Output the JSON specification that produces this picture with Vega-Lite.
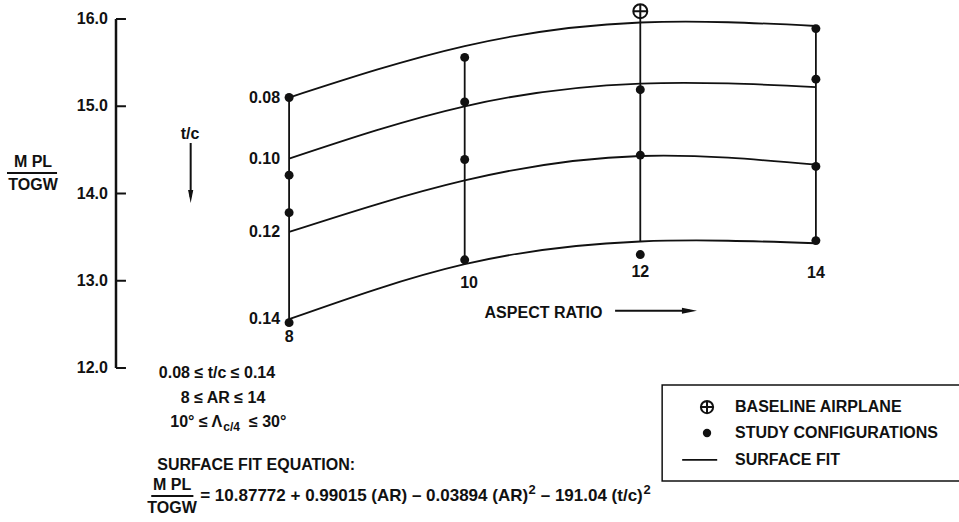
{
  "$schema": "https://vega.github.io/schema/vega-lite/v6.json",
  "width": 959,
  "height": 522,
  "padding": 0,
  "autosize": {"type": "none"},
  "background": "white",
  "config": {
    "view": {"stroke": null},
    "axis": {"disable": true},
    "text": {"font": "Liberation Sans", "fontWeight": "bold", "fontSize": 16, "color": "#111", "baseline": "middle"}
  },
  "data": {"values": [{}]},
  "datasets": {
    "curves": [
      {"tc": "0.08", "AR": 8, "v": 15.10}, {"tc": "0.08", "AR": 10, "v": 15.69}, {"tc": "0.08", "AR": 12, "v": 15.96}, {"tc": "0.08", "AR": 14, "v": 15.92},
      {"tc": "0.10", "AR": 8, "v": 14.40}, {"tc": "0.10", "AR": 10, "v": 15.00}, {"tc": "0.10", "AR": 12, "v": 15.26}, {"tc": "0.10", "AR": 14, "v": 15.22},
      {"tc": "0.12", "AR": 8, "v": 13.56}, {"tc": "0.12", "AR": 10, "v": 14.15}, {"tc": "0.12", "AR": 12, "v": 14.43}, {"tc": "0.12", "AR": 14, "v": 14.33},
      {"tc": "0.14", "AR": 8, "v": 12.56}, {"tc": "0.14", "AR": 10, "v": 13.19}, {"tc": "0.14", "AR": 12, "v": 13.45}, {"tc": "0.14", "AR": 14, "v": 13.43}
    ],
    "dots": [
      {"AR": 8, "v": 15.10}, {"AR": 8, "v": 14.21}, {"AR": 8, "v": 13.78}, {"AR": 8, "v": 12.52},
      {"AR": 10, "v": 15.56}, {"AR": 10, "v": 15.05}, {"AR": 10, "v": 14.39}, {"AR": 10, "v": 13.24},
      {"AR": 12, "v": 15.19}, {"AR": 12, "v": 14.44}, {"AR": 12, "v": 13.30},
      {"AR": 14, "v": 15.89}, {"AR": 14, "v": 15.31}, {"AR": 14, "v": 14.31}, {"AR": 14, "v": 13.46}
    ],
    "baseline": [{"AR": 12, "v": 16.09}],
    "verticals": [
      {"AR": 8, "top": 15.10, "bottom": 12.52},
      {"AR": 10, "top": 15.56, "bottom": 13.20},
      {"AR": 12, "top": 16.09, "bottom": 13.45},
      {"AR": 14, "top": 15.89, "bottom": 13.46}
    ],
    "arLabels": [
      {"AR": 8, "v": 12.355, "label": "8"},
      {"AR": 10.05, "v": 12.974, "label": "10"},
      {"AR": 12, "v": 13.10, "label": "12"},
      {"AR": 14, "v": 13.089, "label": "14"}
    ],
    "yticks": [
      {"v": 12, "label": "12.0"}, {"v": 13, "label": "13.0"}, {"v": 14, "label": "14.0"}, {"v": 15, "label": "15.0"}, {"v": 16, "label": "16.0"}
    ]
  },
  "layer": [
    {
      "data": {"name": "curves"},
      "mark": {"type": "line", "interpolate": "natural", "strokeWidth": 1.8, "color": "#111"},
      "encoding": {
        "x": {"field": "AR", "type": "quantitative", "scale": {"domain": [4.7073, 15.63], "nice": false, "zero": false}, "axis": null},
        "y": {"field": "v", "type": "quantitative", "scale": {"domain": [10.235, 16.2178], "nice": false, "zero": false}, "axis": null},
        "detail": {"field": "tc"}
      }
    },
    {
      "data": {"name": "verticals"},
      "mark": {"type": "rule", "strokeWidth": 1.8, "color": "#111"},
      "encoding": {
        "x": {"field": "AR", "type": "quantitative"},
        "y": {"field": "top", "type": "quantitative"},
        "y2": {"field": "bottom"}
      }
    },
    {
      "data": {"name": "dots"},
      "mark": {"type": "point", "filled": true, "shape": "circle", "size": 80, "color": "#111", "opacity": 1},
      "encoding": {
        "x": {"field": "AR", "type": "quantitative"},
        "y": {"field": "v", "type": "quantitative"}
      }
    },
    {
      "data": {"name": "baseline"},
      "mark": {"type": "point", "shape": "M-1,0A1,1 0 1,1 1,0A1,1 0 1,1 -1,0Z M-1,0L1,0 M0,-1L0,1", "size": 196, "filled": true, "fill": "white", "stroke": "#111", "strokeWidth": 2, "opacity": 1},
      "encoding": {
        "x": {"field": "AR", "type": "quantitative"},
        "y": {"field": "v", "type": "quantitative"}
      }
    },
    {
      "data": {"name": "curves"},
      "transform": [{"filter": "datum.AR == 8"}],
      "mark": {"type": "text", "align": "right", "dx": -9},
      "encoding": {
        "x": {"field": "AR", "type": "quantitative"},
        "y": {"field": "v", "type": "quantitative"},
        "text": {"field": "tc"}
      }
    },
    {
      "data": {"name": "arLabels"},
      "mark": {"type": "text", "align": "center"},
      "encoding": {
        "x": {"field": "AR", "type": "quantitative"},
        "y": {"field": "v", "type": "quantitative"},
        "text": {"field": "label"}
      }
    },
    {
      "mark": {"type": "rule", "strokeWidth": 2.5, "color": "#111"},
      "encoding": {"x": {"datum": 6.0285}, "y": {"datum": 12}, "y2": {"datum": 16}}
    },
    {
      "data": {"name": "yticks"},
      "mark": {"type": "rule", "strokeWidth": 2, "color": "#111"},
      "encoding": {"x": {"datum": 6.0285}, "x2": {"datum": 6.142}, "y": {"field": "v", "type": "quantitative"}}
    },
    {
      "data": {"name": "yticks"},
      "mark": {"type": "text", "align": "right"},
      "encoding": {"x": {"datum": 5.937}, "y": {"field": "v", "type": "quantitative"}, "text": {"field": "label"}}
    },
    {
      "mark": {"type": "text", "align": "center", "text": "M PL"},
      "encoding": {"x": {"datum": 5.083}, "y": {"datum": 14.36}}
    },
    {
      "mark": {"type": "rule", "strokeWidth": 2, "color": "#111"},
      "encoding": {"x": {"datum": 4.787}, "x2": {"datum": 5.357}, "y": {"datum": 14.235}}
    },
    {
      "mark": {"type": "text", "align": "center", "text": "TOGW"},
      "encoding": {"x": {"datum": 5.083}, "y": {"datum": 14.097}}
    },
    {
      "mark": {"type": "text", "align": "center", "text": "t/c"},
      "encoding": {"x": {"datum": 6.871}, "y": {"datum": 14.682}}
    },
    {
      "mark": {"type": "rule", "strokeWidth": 2, "color": "#111"},
      "encoding": {"x": {"datum": 6.879}, "y": {"datum": 14.579}, "y2": {"datum": 13.96}}
    },
    {
      "mark": {"type": "point", "shape": "M-0.4,-1L0,1L0.4,-1Z", "size": 169, "filled": true, "color": "#111", "opacity": 1},
      "encoding": {"x": {"datum": 6.879}, "y": {"datum": 13.966}}
    },
    {
      "mark": {"type": "text", "align": "center", "text": "ASPECT RATIO"},
      "encoding": {"x": {"datum": 10.898}, "y": {"datum": 12.636}}
    },
    {
      "mark": {"type": "rule", "strokeWidth": 2, "color": "#111"},
      "encoding": {"x": {"datum": 11.713}, "x2": {"datum": 12.567}, "y": {"datum": 12.657}}
    },
    {
      "mark": {"type": "point", "shape": "M-1,-0.4L1,0L-1,0.4Z", "size": 225, "filled": true, "color": "#111", "opacity": 1},
      "encoding": {"x": {"datum": 12.56}, "y": {"datum": 12.657}}
    },
    {
      "mark": {"type": "text", "align": "center", "text": "0.08 ≤ t/c ≤ 0.14"},
      "encoding": {"x": {"datum": 7.179}, "y": {"datum": 11.943}}
    },
    {
      "mark": {"type": "text", "align": "center", "text": "8 ≤ AR ≤ 14"},
      "encoding": {"x": {"datum": 7.248}, "y": {"datum": 11.656}}
    },
    {
      "mark": {"type": "text", "align": "right", "text": "10° ≤ Λ"},
      "encoding": {"x": {"datum": 7.238}, "y": {"datum": 11.381}}
    },
    {
      "mark": {"type": "text", "align": "left", "text": "c/4", "fontSize": 12},
      "encoding": {"x": {"datum": 7.25}, "y": {"datum": 11.324}}
    },
    {
      "mark": {"type": "text", "align": "left", "text": "≤ 30°"},
      "encoding": {"x": {"datum": 7.543}, "y": {"datum": 11.381}}
    },
    {
      "mark": {"type": "text", "align": "left", "text": "SURFACE FIT EQUATION:"},
      "encoding": {"x": {"datum": 6.498}, "y": {"datum": 10.888}}
    },
    {
      "mark": {"type": "text", "align": "center", "text": "M PL"},
      "encoding": {"x": {"datum": 6.667}, "y": {"datum": 10.659}}
    },
    {
      "mark": {"type": "rule", "strokeWidth": 2, "color": "#111"},
      "encoding": {"x": {"datum": 6.43}, "x2": {"datum": 6.91}, "y": {"datum": 10.533}}
    },
    {
      "mark": {"type": "text", "align": "center", "text": "TOGW"},
      "encoding": {"x": {"datum": 6.667}, "y": {"datum": 10.395}}
    },
    {
      "mark": {"type": "text", "align": "left", "fontSize": 17, "text": "= 10.87772 + 0.99015 (AR) – 0.03894 (AR)"},
      "encoding": {"x": {"datum": 6.9875}, "y": {"datum": 10.533}}
    },
    {
      "mark": {"type": "text", "align": "left", "fontSize": 13, "text": "2"},
      "encoding": {"x": {"datum": 10.7267}, "y": {"datum": 10.602}}
    },
    {
      "mark": {"type": "text", "align": "left", "fontSize": 17, "text": "– 191.04 (t/c)"},
      "encoding": {"x": {"datum": 10.866}, "y": {"datum": 10.533}}
    },
    {
      "mark": {"type": "text", "align": "left", "fontSize": 13, "text": "2"},
      "encoding": {"x": {"datum": 12.036}, "y": {"datum": 10.602}}
    },
    {
      "mark": {"type": "rect", "fill": null, "filled": false, "stroke": "#111", "strokeWidth": 1.5},
      "encoding": {"x": {"datum": 12.249}, "x2": {"datum": 15.7}, "y": {"datum": 11.805}, "y2": {"datum": 10.705}}
    },
    {
      "mark": {"type": "point", "shape": "M-1,0A1,1 0 1,1 1,0A1,1 0 1,1 -1,0Z M-1,0L1,0 M0,-1L0,1", "size": 150, "filled": true, "fill": "white", "stroke": "#111", "strokeWidth": 2, "opacity": 1},
      "encoding": {"x": {"datum": 12.76}, "y": {"datum": 11.553}}
    },
    {
      "mark": {"type": "point", "filled": true, "shape": "circle", "size": 70, "color": "#111", "opacity": 1},
      "encoding": {"x": {"datum": 12.76}, "y": {"datum": 11.255}}
    },
    {
      "mark": {"type": "rule", "strokeWidth": 1.8, "color": "#111"},
      "encoding": {"x": {"datum": 12.477}, "x2": {"datum": 12.876}, "y": {"datum": 10.946}}
    },
    {
      "mark": {"type": "text", "align": "left", "text": "BASELINE AIRPLANE"},
      "encoding": {"x": {"datum": 13.079}, "y": {"datum": 11.553}}
    },
    {
      "mark": {"type": "text", "align": "left", "text": "STUDY CONFIGURATIONS"},
      "encoding": {"x": {"datum": 13.079}, "y": {"datum": 11.255}}
    },
    {
      "mark": {"type": "text", "align": "left", "text": "SURFACE FIT"},
      "encoding": {"x": {"datum": 13.079}, "y": {"datum": 10.946}}
    }
  ]
}
